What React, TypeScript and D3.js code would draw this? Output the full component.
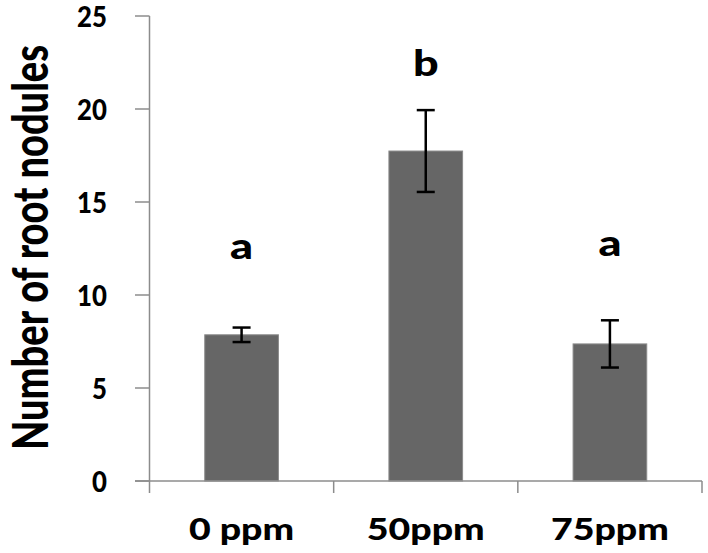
import React from "react";
import * as d3 from "d3";

const categories = ["0 ppm", "50ppm", "75ppm"];
const means = [7.86, 17.74, 7.37];
const errors = [0.39, 2.2, 1.27];
const sigLetters = ["a", "b", "a"];
const sigLetterY = [11.95, 21.8, 12.1];
const yTicks = [0, 5, 10, 15, 20, 25];

const W = 708;
const H = 553;
const FONT = "Lato, 'Open Sans', sans-serif";

export default function App() {
  const x = d3.scaleBand<string>().domain(categories).range([149.5, 702]).paddingInner(0.6).paddingOuter(0.3);
  const band = d3.scaleBand<string>().domain(categories).range([149.5, 702]);
  const y = d3.scaleLinear().domain([0, 25]).range([481, 16]);
  const axisColor = "#8c8c8c";
  const sx = 1.25;
  const boundaries = [0, 1, 2, 3].map((i) => 149.5 + i * band.bandwidth());

  return (
    <svg width={W} height={H} style={{ position: "absolute", left: 0, top: 0, background: "#fff" }}>
      {/* y axis */}
      <line x1={149.5} x2={149.5} y1={y(25)} y2={493} stroke={axisColor} strokeWidth={1.5} />
      {yTicks.map((t) => (
        <g key={t}>
          <line x1={135} x2={149.5} y1={y(t)} y2={y(t)} stroke={axisColor} strokeWidth={1.5} />
          <text
            transform={`translate(107,${y(t) + 10.5}) scale(0.92,1)`}
            textAnchor="end"
            fontFamily={FONT}
            fontWeight={900}
            fontSize={28}
            fill="#000"
          >
            {t}
          </text>
        </g>
      ))}
      {/* bars */}
      {categories.map((c, i) => (
        <rect
          key={c}
          x={x(c)}
          width={x.bandwidth()}
          y={y(means[i])}
          height={y(0) - y(means[i])}
          fill="#666666"
          stroke="#8a8a8a"
          strokeWidth={1}
        />
      ))}
      {/* x axis */}
      <line x1={135} x2={702} y1={y(0)} y2={y(0)} stroke={axisColor} strokeWidth={1.5} />
      {boundaries.slice(1).map((b, i) => (
        <line key={i} x1={b} x2={b} y1={y(0)} y2={493} stroke={axisColor} strokeWidth={1.5} />
      ))}
      {/* error bars */}
      {categories.map((c, i) => {
        const cx = (x(c) as number) + x.bandwidth() / 2;
        const hi = y(means[i] + errors[i]);
        const lo = y(means[i] - errors[i]);
        return (
          <g key={c} stroke="#000" strokeWidth={2.5}>
            <line x1={cx} x2={cx} y1={hi} y2={lo} />
            <line x1={cx - 9} x2={cx + 9} y1={hi} y2={hi} />
            <line x1={cx - 9} x2={cx + 9} y1={lo} y2={lo} />
          </g>
        );
      })}
      {/* significance letters */}
      {categories.map((c, i) => {
        const cx = (x(c) as number) + x.bandwidth() / 2;
        return (
          <text
            key={c}
            transform={`translate(${cx},${y(sigLetterY[i])}) scale(${sx},1)`}
            textAnchor="middle"
            fontFamily={FONT}
            fontWeight={900}
            fontSize={36}
            fill="#000"
          >
            {sigLetters[i]}
          </text>
        );
      })}
      {/* x labels */}
      {categories.map((c) => {
        const cx = (x(c) as number) + x.bandwidth() / 2;
        return (
          <text
            key={c}
            transform={`translate(${cx},540) scale(${sx},1)`}
            textAnchor="middle"
            fontFamily={FONT}
            fontWeight={900}
            fontSize={30}
            fill="#000"
          >
            {c}
          </text>
        );
      })}
      {/* y label */}
      <text
        transform={`translate(48,247.5) scale(1.3,1) rotate(-90)`}
        textAnchor="middle"
        fontFamily={FONT}
        fontWeight={900}
        fontSize={38}
        fill="#000"
      >
        Number of root nodules
      </text>
    </svg>
  );
}
